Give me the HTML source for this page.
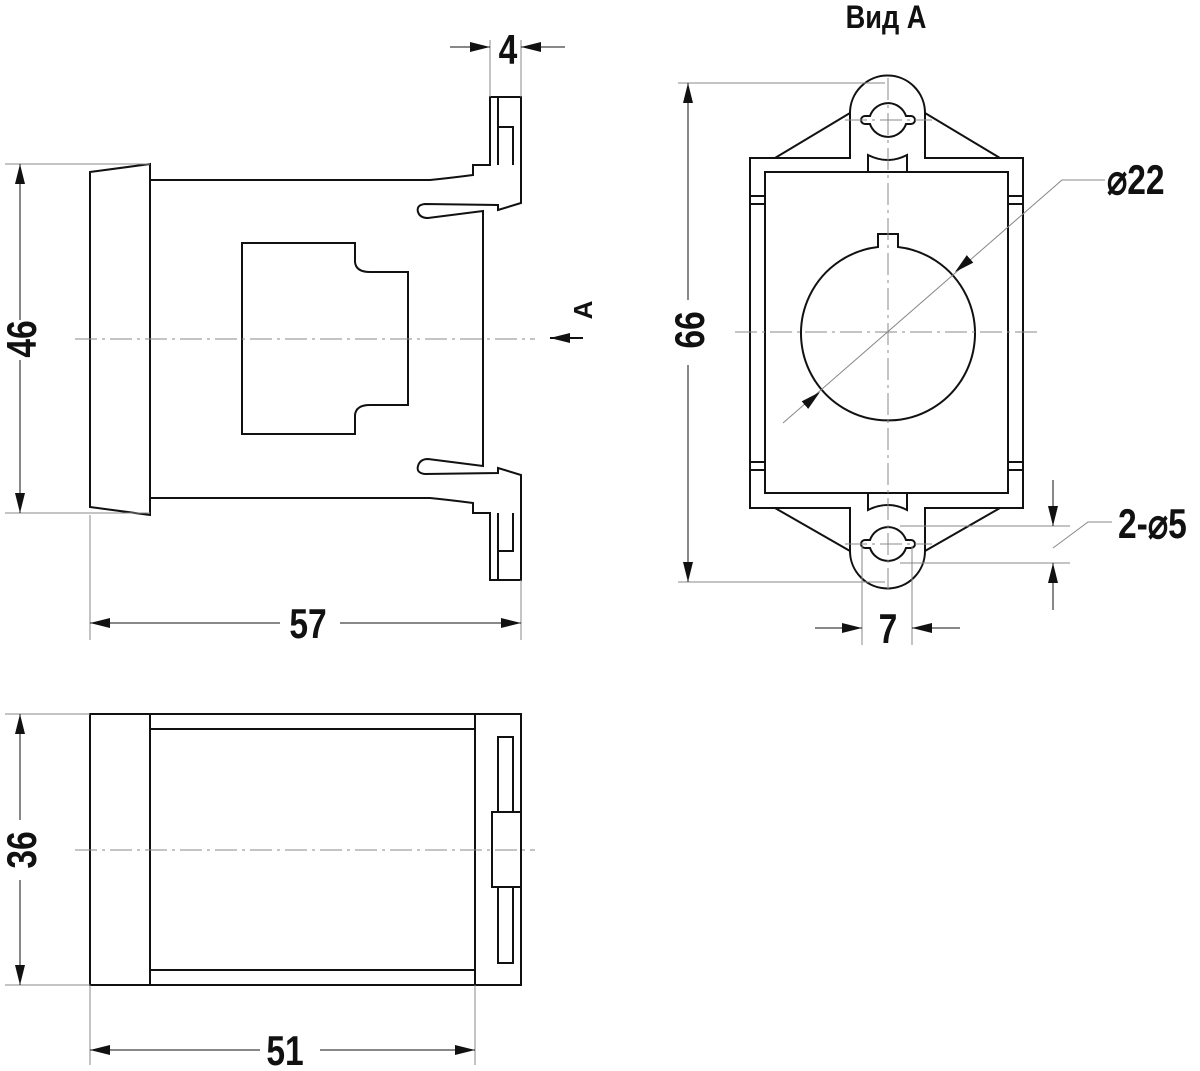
<!DOCTYPE html>
<html><head><meta charset="utf-8"><style>
html,body{margin:0;padding:0;background:#fff}
svg{display:block}
text{font-family:"Liberation Sans",sans-serif;fill:#111}
</style></head><body>
<svg width="1200" height="1071" viewBox="0 0 1200 1071" xmlns="http://www.w3.org/2000/svg">
<defs>
<marker id="ar" viewBox="0 0 20 10" refX="20" refY="5" markerWidth="20" markerHeight="10" markerUnits="userSpaceOnUse" orient="auto"><path d="M0,0 L20,5 L0,10 z" fill="#111"/></marker>
</defs>
<g fill="none" stroke="#111" stroke-width="2">
<path d="M90,172 L150,164 L150,515 L90,507 Z"/>
<path d="M150,180 L430,180 Q450,178 473,175 L473,165 L490,165 L490,97 L521,97 L521,203 L498,210 L498,205 L425,204 Q416,205 418,212 Q420,218 428,218 L483,211 L483,466 L428,459 Q420,459 418,466 Q416,473 425,474 L498,473 L498,468 L521,475 L521,580 L490,580 L490,513 L473,513 L473,503 Q450,500 430,498 L150,498"/>
<path d="M498,97 L498,165 M498,127 L513,127 L513,165 M498,580 L498,513 M498,551 L513,551 L513,513"/>
<path d="M242,434 L242,243 L355,243 L355,262 Q356,272 370,272 L408,272 L408,405 L370,405 Q356,405 355,415 L355,434 Z"/>
<rect x="90" y="714" width="431" height="271"/>
<path d="M150,714 L150,985 M150,729 L475,729 M150,970 L475,970 M475,714 L475,985"/>
<rect x="498" y="737" width="15" height="226"/>
<rect x="492" y="812" width="29" height="75" fill="#fff"/>
<path d="M750,158 L850,158 L850,113 A37,37 0 1 1 925,113 L925,158 L1023,158 L1023,508 L925,508 L925,551 A37,37 0 1 1 850,551 L850,508 L750,508 Z"/>
<rect x="765" y="172" width="243" height="321"/>
<path d="M775,158 L850,113 M1000,158 L925,113 M775,508 L850,551 M1000,508 L925,551"/>
<path d="M868,172 L868,155 Q888,165 907,155 L907,172 M868,493 L868,510 Q888,500 907,510 L907,493"/>
<path d="M750,196 L765,196 M750,204 L765,204 M1008,196 L1023,196 M1008,204 L1023,204 M750,462 L765,462 M750,470 L765,470 M1008,462 L1023,462 M1008,470 L1023,470"/>
<path d="M870,116 A19,19 0 0 1 906,116 L911,116 A4,4 0 0 1 911,124 L906,124 A19,19 0 0 1 870,124 L865,124 A4,4 0 0 1 865,116 Z"/>
<path d="M870,540 A19,19 0 0 1 906,540 L911,540 A4,4 0 0 1 911,548 L906,548 A19,19 0 0 1 870,548 L865,548 A4,4 0 0 1 865,540 Z"/>
<path d="M878,247 L878,234 L898,234 L898,247 A87,87 0 1 1 878,247 Z"/>
</g>
<g stroke="#888" stroke-width="1" fill="none" stroke-dasharray="22,5,3,5">
<path d="M75,339 L535,339 M75,850 L535,850 M735,332 L1040,332 M888,78 L888,590 M845,120 L932,120 M845,544 L932,544"/>
</g>
<g stroke="#888" stroke-width="1" fill="none">
<path d="M5,164 L150,164 M5,513 L150,513 M90,515 L90,640 M521,580 L521,640 M490,40 L490,97 M521,40 L521,97 M678,83 L885,83 M678,582 L885,582 M862,546 L862,645 M912,546 L912,645 M900,526 L1070,526 M900,563 L1070,563 M5,714 L90,714 M5,985 L90,985 M90,985 L90,1065 M475,985 L475,1065"/>
<path d="M783,423 L1062,180 L1105,180 M1053,548 L1088,522 L1112,522"/>
</g>
<g stroke="#111" stroke-width="1" fill="none" marker-end="url(#ar)">
<path d="M20,320 L20,164"/><path d="M20,360 L20,513"/>
<path d="M280,623 L90,623"/><path d="M340,623 L521,623"/>
<path d="M450,47 L490,47"/><path d="M565,47 L521,47"/>
<path d="M688,300 L688,83"/><path d="M688,365 L688,582"/>
<path d="M815,628 L862,628"/><path d="M960,628 L912,628"/>
<path d="M1053,480 L1053,526"/><path d="M1053,610 L1053,563"/>
<path d="M20,820 L20,714"/><path d="M20,880 L20,985"/>
<path d="M260,1050 L90,1050"/><path d="M320,1050 L475,1050"/>
<path d="M957.3,270 L955,272" stroke="none"/><path d="M817.7,394 L820,392" stroke="none"/>
<path d="M583,338 L550,338" stroke-width="2"/>
</g>
<g font-size="42" font-weight="bold">
<text transform="translate(36,339) rotate(-90) scale(0.8,1)" text-anchor="middle">46</text>
<text transform="translate(36,850) rotate(-90) scale(0.8,1)" text-anchor="middle">36</text>
<text transform="translate(704,330) rotate(-90) scale(0.8,1)" text-anchor="middle">66</text>
<text transform="translate(308,638) scale(0.8,1)" text-anchor="middle">57</text>
<text transform="translate(285,1065) scale(0.8,1)" text-anchor="middle">51</text>
<text transform="translate(508,64) scale(0.8,1)" text-anchor="middle">4</text>
<text transform="translate(888,643) scale(0.8,1)" text-anchor="middle">7</text>
<text transform="translate(1107,194) scale(0.8,1)">⌀22</text>
<text transform="translate(1118,538) scale(0.8,1)">2-⌀5</text>
<text transform="translate(592,310) rotate(-90)" text-anchor="middle" font-size="26">A</text>
<text transform="translate(886,28) scale(0.85,1)" text-anchor="middle" font-size="32">Вид A</text>
</g>
</svg>
</body></html>
